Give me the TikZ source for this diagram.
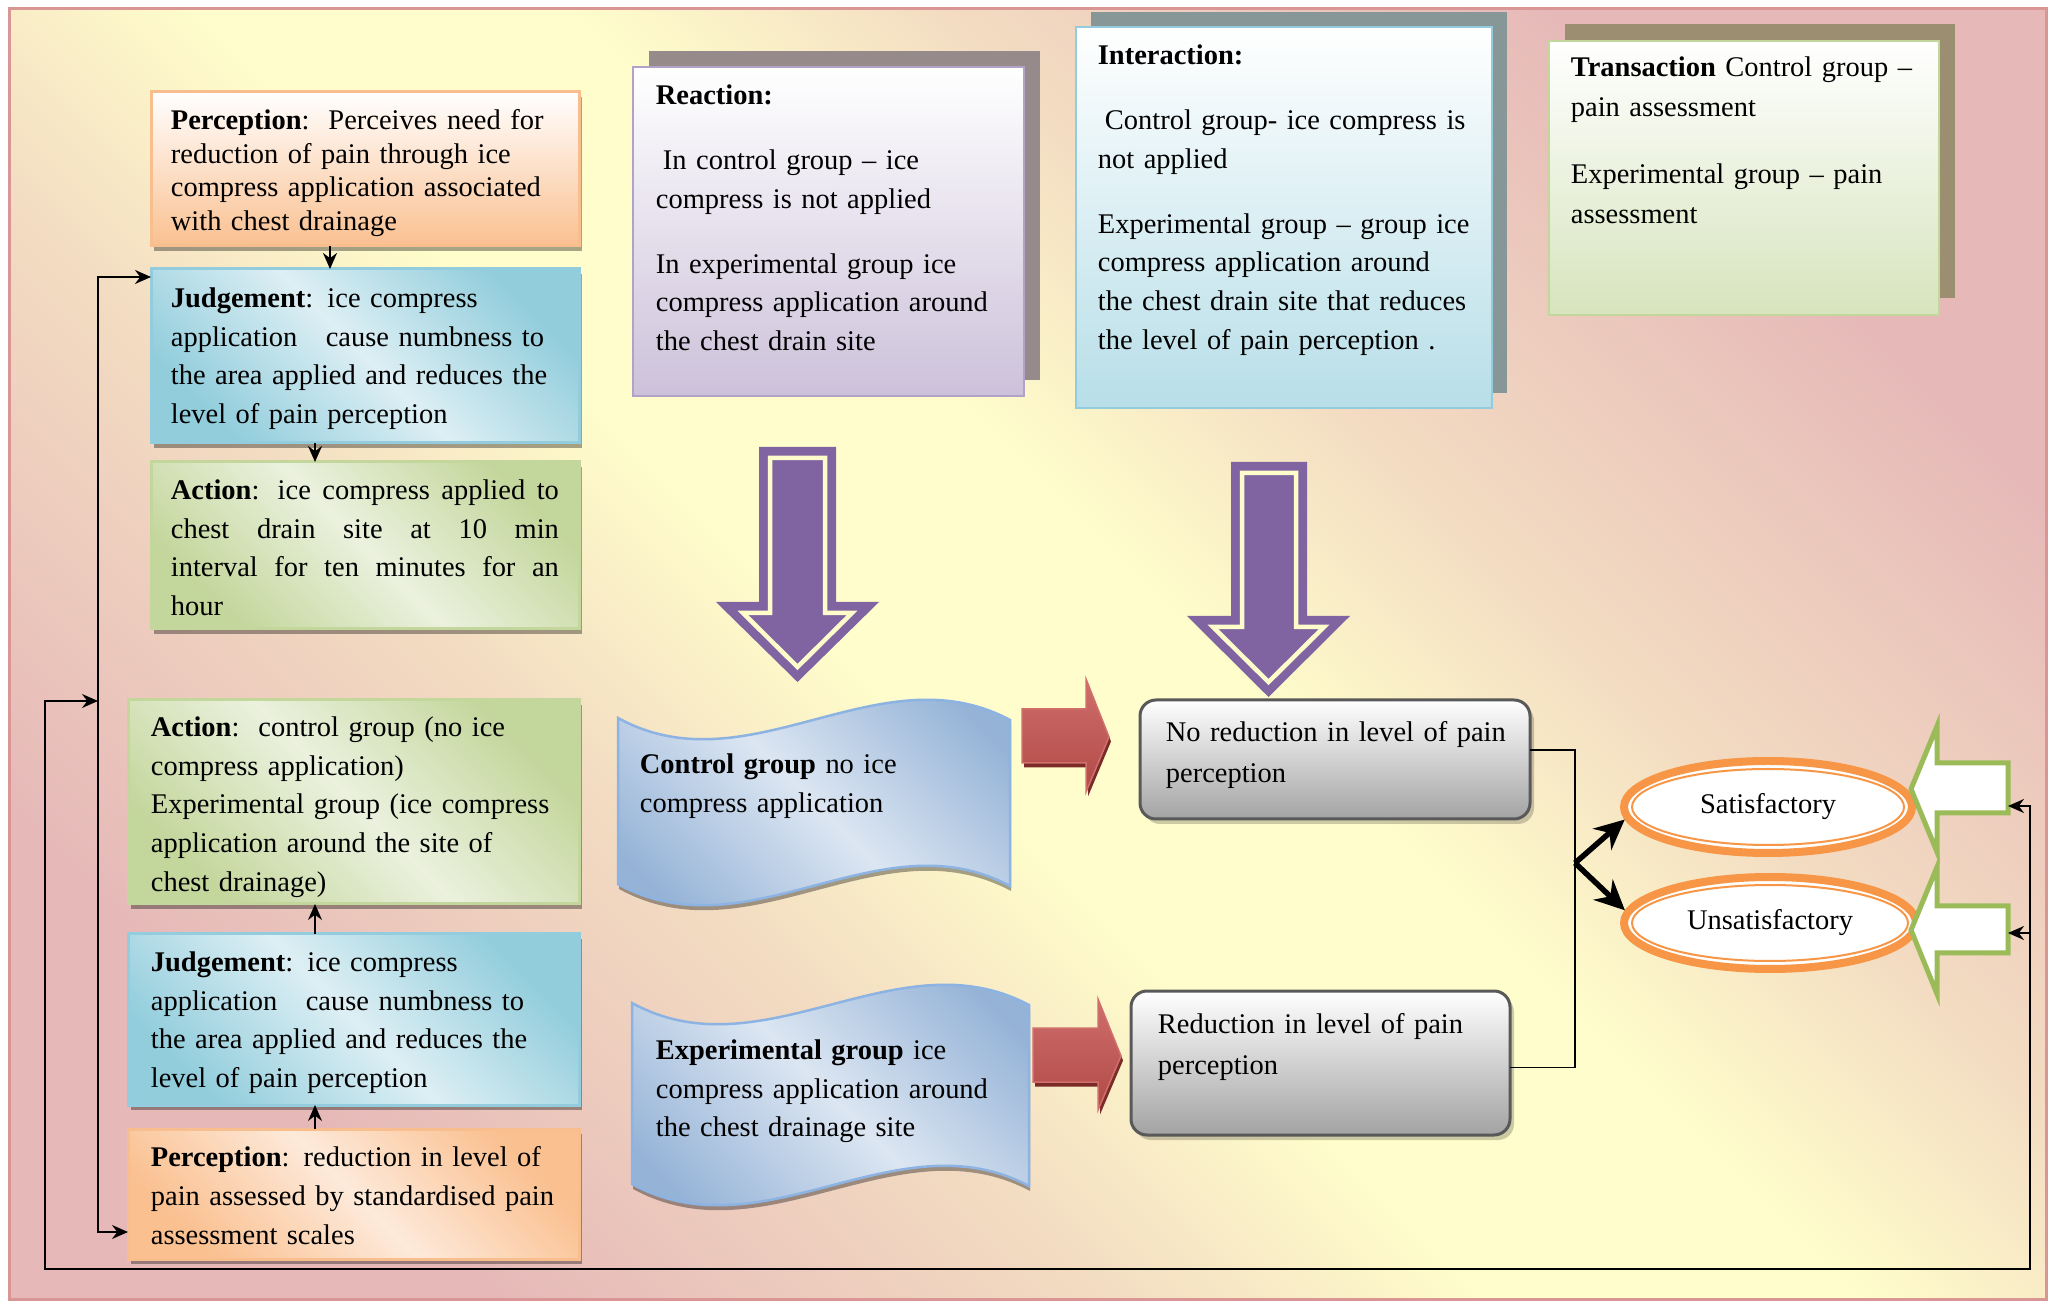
\documentclass[tikz,border=0pt]{standalone}
\usepackage{fontspec}
\setmainfont{Liberation Serif}
\usetikzlibrary{arrows,arrows.meta,shadows,shapes,positioning}

\definecolor{bgyellow}{HTML}{FFFDCB}
\definecolor{bgpeach}{HTML}{F3DCC2}
\definecolor{bgpink}{HTML}{E6B9B8}
\definecolor{frameline}{HTML}{D99694}
\definecolor{orgdark}{HTML}{FAC090}
\definecolor{orglight}{HTML}{FDEADA}
\definecolor{orgedge}{HTML}{F9BE8E}
\definecolor{bluedark}{HTML}{92CDDC}
\definecolor{bluelight}{HTML}{DDEFF4}
\definecolor{blueedge}{HTML}{93CDDD}
\definecolor{grndark}{HTML}{C3D69B}
\definecolor{grnlight}{HTML}{EBF1DE}
\definecolor{lavender}{HTML}{CCC1DA}
\definecolor{lavedge}{HTML}{B3A2C7}
\definecolor{skyblue}{HTML}{B7DEE8}
\definecolor{sagegreen}{HTML}{D7E4BD}
\definecolor{shmauve}{HTML}{978A8A}
\definecolor{shslate}{HTML}{879797}
\definecolor{shkhaki}{HTML}{9C8E70}
\definecolor{arrowpurple}{HTML}{8064A2}
\definecolor{cream}{HTML}{FFFCCB}
\definecolor{arrowred}{HTML}{C0504D}
\definecolor{redtop}{HTML}{CF6E6B}
\definecolor{reddark}{HTML}{7B2A28}
\definecolor{rededge}{HTML}{D0706D}
\definecolor{greyfill}{HTML}{A3A3A3}
\definecolor{greyedge}{HTML}{595959}
\definecolor{wavedark}{HTML}{95B3D7}
\definecolor{wavelight}{HTML}{DCE6F2}
\definecolor{waveedge}{HTML}{8DB3E2}
\definecolor{ringorange}{HTML}{F79646}
\definecolor{leafgreen}{HTML}{9BBB59}

\pgfdeclareverticalshading{bgshade}{100bp}{color(0bp)=(bgpink); color(25bp)=(bgpink);
  color(38bp)=(bgpeach); color(46bp)=(bgyellow); color(54bp)=(bgyellow);
  color(62bp)=(bgpeach); color(75bp)=(bgpink); color(100bp)=(bgpink)}

\begin{document}
\begin{tikzpicture}[x=0.1mm,y=-0.1mm,>={Stealth[length=1.6mm,width=1.4mm]},line width=0.18mm,
    box/.style={draw,line width=0.3mm,inner sep=0pt,outer sep=0pt,anchor=north west},
    lift/.style={drop shadow={shadow xshift=0.3mm,shadow yshift=-0.5mm,opacity=0.35,fill=black}},
    orangetop/.style={box,lift,draw=orgedge,top color=white,bottom color=orgdark},
    orangebox/.style={box,lift,draw=orgedge,top color=orgdark,bottom color=orgdark,middle color=orglight,shading angle=-45},
    bluebox/.style={box,lift,draw=blueedge,top color=bluedark,bottom color=bluedark,middle color=bluelight,shading angle=-45},
    greenbox/.style={box,lift,draw=grndark,top color=grndark,bottom color=grndark,middle color=grnlight,shading angle=-45},
    note/.style={box,draw=#1,line width=0.25mm,top color=white},
    greybox/.style={box,rounded corners=1.6mm,draw=greyedge,top color=white,bottom color=greyfill,
      drop shadow={shadow xshift=0.4mm,shadow yshift=-0.5mm,opacity=0.2,fill=black}},
    wave/.style={draw=waveedge,line width=0.25mm,top color=wavedark,bottom color=wavedark,middle color=wavelight,
      shading angle=-45,drop shadow={shadow xshift=0.1mm,shadow yshift=-0.5mm,opacity=0.35,fill=black}},
    redarrow/.style={draw=rededge,line width=0.15mm,top color=redtop,bottom color=arrowred!92!black,
      drop shadow={shadow xshift=0.2mm,shadow yshift=-0.45mm,opacity=1,fill=reddark}},
    outcome/.style={ellipse,draw=ringorange,line width=0.8mm,fill=white,inner sep=0pt},
    bigtip/.style={-{Stealth[length=3mm,width=2.8mm]},line width=0.55mm},
    txt/.style={anchor=north west,inner sep=0pt,align=left,font=\fontsize{8.1}{11}\selectfont}]

  % page and backdrop
  \useasboundingbox (0,0) rectangle (2057,1302);
  \shade[shading=bgshade,shading angle=-45] (9,9) rectangle (2046,1299);
  \draw[frameline,line width=0.3mm] (9,9) rectangle (2046,1299);

  % nursing process, intervention side
  \node[orangetop,minimum width=42.8mm,minimum height=15.4mm] (percA) at (151,92) {};
  \node[txt,text width=40mm,font=\fontsize{8.1}{9.5}\selectfont] (percAtxt)
    at ([xshift=1.9mm,yshift=-1.7mm]percA.north west)
    {\textbf{Perception}:\ \ Perceives need for\\ reduction of pain through ice\\
     compress application associated\\ with chest drainage};

  \node[bluebox,minimum width=42.8mm,minimum height=17.4mm] (judgeA) at (151,269) {};
  \node[txt,text width=40mm] (judgeAtxt) at ([xshift=1.9mm,yshift=-1.8mm]judgeA.north west)
    {\textbf{Judgement}: ice compress\\ application\ \ \ cause numbness to\\
     the area applied and reduces the\\ level of pain perception};

  \node[greenbox,minimum width=42.8mm,minimum height=16.7mm] (actA) at (151,462) {};
  \node[txt,text width=38.8mm,align=justify] (actAtxt) at ([xshift=1.9mm,yshift=-1.7mm]actA.north west)
    {\textbf{Action}: ice compress applied to\linebreak chest drain site at 10 min\linebreak
     interval for ten minutes for an\linebreak hour};

  % nursing process, evaluation side
  \node[greenbox,minimum width=45.1mm,minimum height=20.4mm] (actB) at (128,700) {};
  \node[txt,text width=42mm] (actBtxt) at ([xshift=2.2mm,yshift=-1.6mm]actB.north west)
    {\textbf{Action}:\ \ control group (no ice\\ compress application)\\
     Experimental group (ice compress\\ application around the site of\\ chest drainage)};

  \node[bluebox,minimum width=45.1mm,minimum height=17.1mm] (judgeB) at (128,934) {};
  \node[txt,text width=42mm] (judgeBtxt) at ([xshift=2.2mm,yshift=-1.7mm]judgeB.north west)
    {\textbf{Judgement}: ice compress\\ application\ \ \ cause numbness to\\
     the area applied and reduces the\\ level of pain perception};

  \node[orangebox,minimum width=45.1mm,minimum height=13mm] (percB) at (128,1129) {};
  \node[txt,text width=42mm] (percBtxt) at ([xshift=2.2mm,yshift=-1.7mm]percB.north west)
    {\textbf{Perception}: reduction in level of\\ pain assessed by standardised pain\\ assessment scales};

  % reaction, interaction, transaction
  \node[note=lavedge,bottom color=lavender,minimum width=39.1mm,minimum height=32.9mm,
    drop shadow={shadow xshift=1.55mm,shadow yshift=1.6mm,opacity=1,fill=shmauve}] (reac) at (633,67) {};
  \node[txt,text width=37mm] (reactxt) at ([xshift=2.2mm,yshift=-1.7mm]reac.north west)
    {\textbf{Reaction:}\\[7.5pt] \hspace*{2pt}In control group -- ice\\ compress is not applied\\[7.5pt]
     In experimental group ice\\ compress application around\\ the chest drain site};

  \node[note=blueedge,bottom color=skyblue,minimum width=41.6mm,minimum height=38.1mm,
    drop shadow={shadow xshift=1.5mm,shadow yshift=1.5mm,opacity=1,fill=shslate}] (inter) at (1076,27) {};
  \node[txt,text width=39.5mm] (intertxt) at ([xshift=2.1mm,yshift=-1.7mm]inter.north west)
    {\textbf{Interaction:}\\[7.5pt] \hspace*{2pt}Control group- ice compress is\\ not applied\\[7.5pt]
     Experimental group -- group ice\\ compress application around\\
     the chest drain site that reduces\\ the level of pain perception .};

  \node[note=grndark,bottom color=sagegreen,minimum width=39mm,minimum height=27.4mm,
    drop shadow={shadow xshift=1.6mm,shadow yshift=1.7mm,opacity=1,fill=shkhaki}] (trans) at (1549,41) {};
  \node[txt,text width=37mm,font=\fontsize{8.1}{11.4}\selectfont] (transtxt)
    at ([xshift=2.1mm,yshift=-1.5mm]trans.north west)
    {\textbf{Transaction} Control group --\\ pain assessment\\[7.5pt] Experimental group -- pain\\ assessment};

  % hollow purple arrows
  \fill[arrowpurple] (759,447) -- (836,447) -- (836,602) -- (879,602) -- (797.5,682) -- (716,602) -- (759,602) -- cycle;
  \draw[cream,line width=0.45mm] (770,458) -- (825,458) -- (825,613) -- (852,613) -- (797.5,667) -- (743,613) -- (770,613) -- cycle;
  \fill[arrowpurple] (1231,462) -- (1307,462) -- (1307,616) -- (1350,616) -- (1268.5,697) -- (1187,616) -- (1231,616) -- cycle;
  \draw[cream,line width=0.45mm] (1242,473) -- (1296,473) -- (1296,627) -- (1324,627) -- (1268.5,682) -- (1213,627) -- (1242,627) -- cycle;

  % groups
  \path[wave] (618,718) .. controls (749,790) and (879,650) .. (1010,720) -- (1010,886)
    .. controls (879,816) and (749,956) .. (618,884) -- cycle;
  \node[txt,text width=36mm] (ctrl) at (639,753) {\textbf{Control group} no ice\\ compress application};

  \path[wave] (632,1003) .. controls (764,1075) and (897,935) .. (1029,1005) -- (1029,1186)
    .. controls (897,1116) and (764,1256) .. (632,1184) -- cycle;
  \node[txt,text width=36mm] (exp) at (655,1039)
    {\textbf{Experimental group} ice\\ compress application around\\ the chest drainage site};

  \path[redarrow] (1022,709) -- (1086,709) -- (1086,679) -- (1109,737) -- (1086,792) -- (1086,763) -- (1022,763) -- cycle;
  \path[redarrow] (1033,1028) -- (1098,1028) -- (1098,999) -- (1121,1056) -- (1098,1110) -- (1098,1082) -- (1033,1082) -- cycle;

  % results
  \node[greybox,minimum width=39mm,minimum height=11.9mm] (noRed) at (1140,700) {};
  \node[txt,text width=36mm,font=\fontsize{8.1}{11.4}\selectfont] (noRedtxt)
    at ([xshift=2.5mm,yshift=-2.1mm]noRed.north west) {No reduction in level of pain\\ perception};
  \node[greybox,minimum width=37.9mm,minimum height=14.4mm] (redu) at (1131,991) {};
  \node[txt,text width=35mm,font=\fontsize{8.1}{11.4}\selectfont] (redutxt)
    at ([xshift=2.6mm,yshift=-2.2mm]redu.north west) {Reduction in level of pain\\ perception};

  \node[outcome,minimum width=28.8mm,minimum height=9.2mm,font=\fontsize{8.1}{10}\selectfont] (sat) at (1768,807) {Satisfactory};
  \draw[ringorange,line width=0.2mm] (sat.center) ellipse [x radius=13.6mm,y radius=3.8mm];
  \node[outcome,minimum width=29.2mm,minimum height=9.2mm,font=\fontsize{8.1}{10}\selectfont] (unsat) at (1770,923) {Unsatisfactory};
  \draw[ringorange,line width=0.2mm] (unsat.center) ellipse [x radius=13.8mm,y radius=3.8mm];

  % green return arrows
  \filldraw[fill=white,draw=leafgreen,line width=0.5mm] (2008,763) -- (1937,763) -- (1937,726) -- (1911,789)
    -- (1937,852) -- (1937,813) -- (2008,813) -- cycle;
  \filldraw[fill=white,draw=leafgreen,line width=0.5mm] (2008,906) -- (1937,906) -- (1937,867) -- (1911,930)
    -- (1937,994) -- (1937,953) -- (2008,953) -- cycle;

  % connectors
  \draw[->] ([xshift=-3.5mm]percA.south) -- ([xshift=-3.5mm]judgeA.north);
  \draw[->] ([xshift=-5mm]judgeA.south) -- ([xshift=-5mm]actA.north);
  \draw[->] ([xshift=-3.85mm]judgeB.north) -- ([xshift=-3.85mm]actB.south);
  \draw[->] ([xshift=-3.85mm]percB.north) -- ([xshift=-3.85mm]judgeB.south);

  \coordinate (split) at (1575,863);
  \draw ([yshift=0.95mm]noRed.east) -| (split) |- ([yshift=-0.45mm]redu.east);
  \draw[bigtip] (split) -- (sat.185);
  \draw[bigtip] (split) -- (unsat.175);

  % feedback loop
  \coordinate (feedIn) at (98,701);
  \coordinate (loopTL) at (45,701);
  \coordinate (loopBL) at (45,1269);
  \coordinate (loopBR) at (2030,1269);
  \coordinate (satIn) at (2008,806);
  \coordinate (unsatIn) at (2008,933);
  \coordinate (innerTop) at (98,277);
  \coordinate (innerBot) at (98,1232);
  \draw[<->] (feedIn) -- (loopTL) -- (loopBL) -- (loopBR) |- (satIn);
  \draw[->] (loopBR |- unsatIn) -- (unsatIn);
  \draw[<->] (judgeA.west |- innerTop) -- (innerTop) -- (innerBot) -- (percB.west |- innerBot);
\end{tikzpicture}
\end{document}
